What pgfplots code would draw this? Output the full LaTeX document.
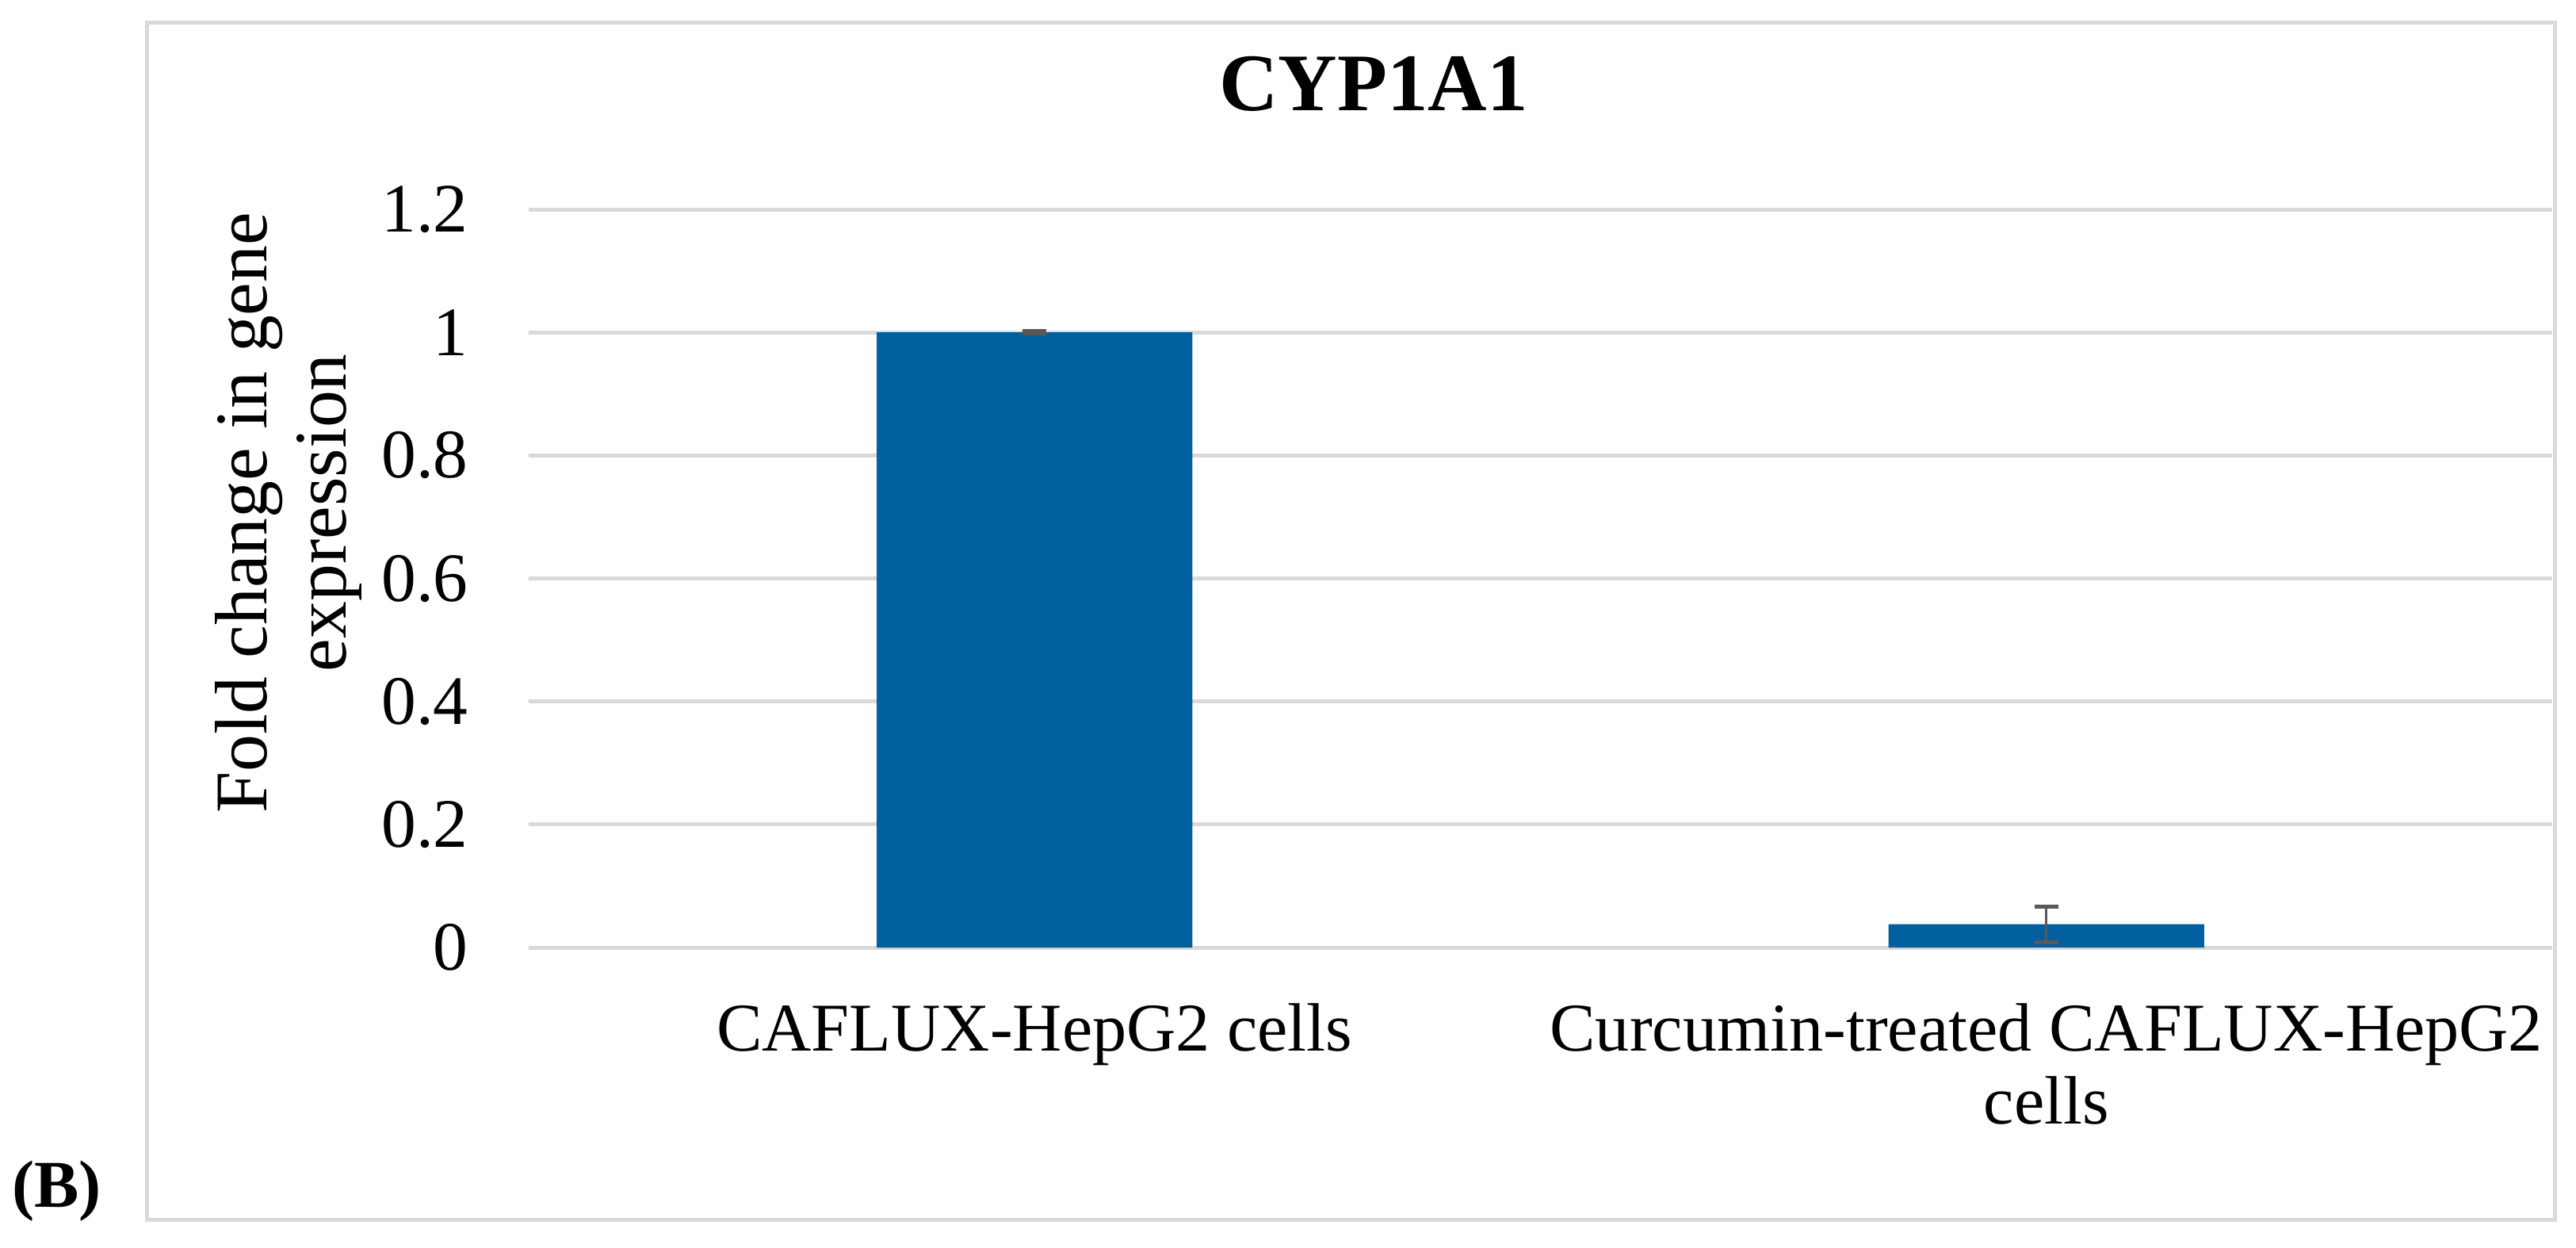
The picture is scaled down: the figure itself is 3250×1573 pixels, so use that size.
\documentclass[border=0pt]{standalone}
\usepackage{fontspec}
\setmainfont{Liberation Serif}
\usepackage{pgfplots}
\pgfplotsset{compat=1.18}

\definecolor{barblue}{RGB}{0,95,158}
\definecolor{gridgray}{RGB}{217,217,217}
\definecolor{errgray}{RGB}{89,89,89}

\begin{document}
\begin{tikzpicture}
  % whole picture, 1px = 0.16pt
  \begin{scope}[x=0.16pt, y=-0.16pt]
    \useasboundingbox (0,0) rectangle (3250,1573);
    \draw[gridgray, line width=0.8pt] (185,28) rectangle (3223,1538);
    \node[anchor=base west, inner sep=0pt, font=\bfseries\fontsize{13.5}{15}\selectfont] at (14,1522) {(B)};
  \end{scope}

  \begin{axis}[
      at={(106.72pt,-191.2pt)}, anchor=south west,
      scale only axis, width=408.5pt, height=148.96pt,
      ybar, bar width=63.7pt,
      xmin=-0.5, xmax=1.5, ymin=0, ymax=1.2,
      xtick={0,1},
      xticklabels={{CAFLUX-HepG2 cells},{Curcumin-treated CAFLUX-HepG2\\cells}},
      ytick={0,0.2,...,1.2},
      /pgf/number format/assume math mode=true,
      yticklabel style={font=\fontsize{14}{16}\selectfont, inner sep=0pt, xshift=-12pt},
      xticklabel style={font=\fontsize{13.8}{14.6}\selectfont, align=center, anchor=north, inner sep=0pt, yshift=-6.9pt},
      axis line style={draw=none}, tick style={draw=none},
      ymajorgrids, grid style={gridgray, line width=0.8pt},
      title={CYP1A1},
      title style={font=\bfseries\fontsize{16.5}{18}\selectfont, at={(rel axis cs:0.4176,1.0934)}, anchor=base, inner sep=0pt},
      ylabel={Fold change in gene\\expression},
      ylabel style={align=center, font=\fontsize{15}{16}\selectfont, at={(rel axis cs:-0.082,0.589)}, anchor=south, inner sep=0pt},
    ]
    \addplot[fill=barblue, draw=none,
      error bars/.cd, y dir=both, y explicit,
      error bar style={errgray, line width=0.5pt},
      error mark options={errgray, rotate=90, line width=0.8pt, mark size=2.4pt}]
      coordinates {(0,1.0) +- (0,0.002) (1,0.038) +- (0,0.029)};
  \end{axis}
\end{tikzpicture}
\end{document}
